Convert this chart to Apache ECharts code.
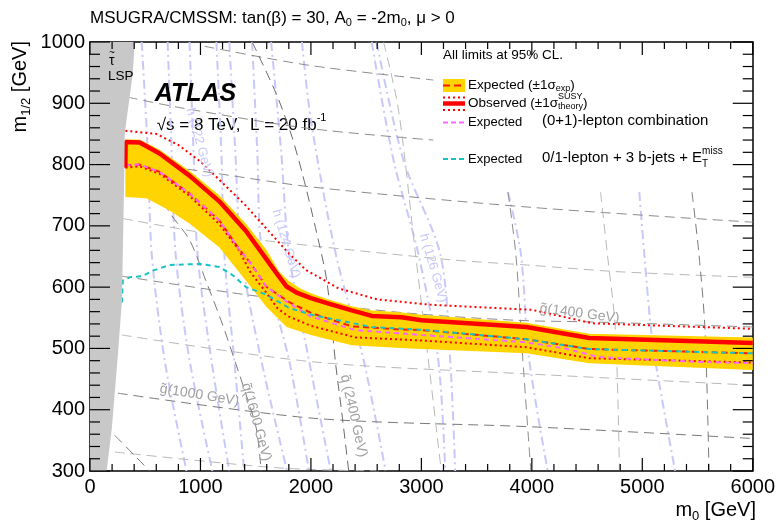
<!DOCTYPE html>
<html><head><meta charset="utf-8">
<script src="https://cdn.jsdelivr.net/npm/echarts@6/dist/echarts.min.js"></script>
<style>html,body{margin:0;padding:0;background:#fff}#c{width:778px;height:525px}</style>
</head><body><div id="c"></div>
<script>
const FONT = '"Liberation Sans", Arial, Helvetica, sans-serif';

// ---------------- data (m0 [GeV], m1/2 [GeV]) ----------------
const observed   = [[320,795],[322,837],[450,836],[630,818],[900,782],[1170,740],[1410,692],[1600,645],[1700,620],[1780,601],[1870,591],[2000,582],[2160,573],[2370,562],[2550,553],[2820,551],[3000,546],[3950,535],[4520,517],[6000,509]];
const theoryUp   = [[320,855],[600,850],[800,832],[1000,805],[1200,770],[1400,735],[1600,695],[1800,655],[1955,628],[2250,598],[2600,580],[3100,571],[4000,563],[4550,541],[6000,532]];
const theoryDown = [[320,795],[450,797],[630,785],[900,749],[1170,703],[1350,660],[1450,625],[1600,590],[1700,565],[1800,552],[2000,537],[2400,518],[3000,513],[3950,502],[4520,484],[6000,477]];
const expected   = [[320,799],[450,800],[630,788],[900,753],[1170,709],[1350,662],[1450,640],[1600,600],[1800,576],[2000,558],[2370,536],[2800,531],[3000,530],[3950,515],[4520,499],[6000,492]];
const bandUpper  = [[320,841],[450,841],[630,824],[900,790],[1170,750],[1410,704],[1600,660],[1710,626],[1800,610],[1900,598],[2000,590],[2160,580],[2370,569],[2550,562],[2800,559],[3000,555],[3950,542],[4520,524],[6000,518]];
const bandLower  = [[320,747],[510,745],[720,725],[900,704],[1170,665],[1410,611],[1600,567],[1780,535],[2000,522],[2370,505],[2900,500],[3950,492],[4520,476],[6000,465]];
const combo01    = [[320,799],[450,800],[630,788],[900,753],[1170,709],[1350,662],[1450,640],[1600,600],[1800,574],[2000,552],[2400,530],[3000,522],[3950,510],[4300,500],[4600,486],[5500,478],[6000,476]];
const bjets3     = [[288,575],[297,611],[360,616],[477,618],[568,627],[721,636],[991,638],[1171,633],[1288,620],[1414,600],[1595,588],[1802,566],[2027,554],[2550,535],[3036,530],[3950,515],[4520,499],[6000,492]];
const lspRegion  = [[0,300],[150,300],[198,370],[252,489],[288,575],[297,655],[310,780],[315,851],[387,949],[405,1000],[0,1000]];

// theory contours: gluino (near-horizontal), squark (near-vertical), Higgs mass
const gl1 = [[1036,993],[1982,962],[3108,938]];
const gl2 = [[342,910],[811,893],[1982,859],[3108,840]];
const gl3 = [[306,807],[1054,788],[2027,763],[4009,730],[6000,706]];
const gl4 = [[297,712],[1054,688],[1982,668],[3306,644],[3964,636],[4802,625],[6000,616]];
const gl5 = [[288,618],[1441,587],[2793,559],[3847,546],[4595,543],[6000,535]];
const gl6 = [[288,522],[2027,478],[4009,458],[6000,440]];
const gl7 = [[252,427],[2027,386],[4009,372],[6000,353]];
const gl8 = [[225,331],[1712,305],[2613,300]];
const glCurve = [[225,358],[405,325],[541,300]];
const sq2400 = [[1468,1000],[1685,916],[1820,850],[1930,780],[2050,690],[2144,610],[2225,473],[2279,396],[2342,300]];
const sq1600 = [[600,790],[694,730],[901,677],[1050,610],[1198,540],[1324,473],[1414,424],[1505,370],[1550,300]];
const sqA = [[3784,755],[3856,652],[3919,481],[3991,300]];
const sqB = [[2658,1000],[2793,889],[2946,655],[3063,481],[3180,300]];
const sqC = [[4622,755],[4685,652],[4757,530],[4793,300]];
const sqD = [[5450,755],[5514,652],[5568,530],[5604,300]];
const h1 = [[468,1000],[523,823],[559,654],[676,481],[874,300]];
const h2 = [[703,1000],[739,823],[775,654],[901,481],[1108,300]];
const h3 = [[901,1000],[937,823],[973,654],[1099,481],[1261,300]];
const h4 = [[1144,1000],[1189,823],[1216,654],[1306,481],[1396,300]];
const h5 = [[1261,1000],[1315,823],[1369,654],[1550,481],[1784,300]];
const h6 = [[1468,1000],[1514,823],[1559,654],[1802,481],[1982,300]];
const h7 = [[1640,1000],[1730,823],[1802,654],[1982,481],[2180,300]];
const h8 = [[1919,1000],[2000,872],[2225,654],[2477,481],[2676,300]];
const h9 = [[2550,1000],[2748,807],[2973,654],[3153,481],[3216,300]];
const h10 = [[2595,1000],[2838,807],[3171,654],[3261,481],[3306,300]];
const h11 = [[3784,755],[3901,654],[3973,486],[4144,300]];
const h12 = [[4973,755],[5018,654],[5090,514],[5180,416],[5297,300]];

// axes / ticks
const xMin = 0, xMax = 6000, xStep = 1000;
const yMin = 300, yMax = 1000, yStep = 100;
const xMajorTicks = [0,1000,2000,3000,4000,5000,6000];
const yMajorTicks = [300,400,500,600,700,800,900,1000];
const xMinorTicks = [], yMinorTicks = [];
for (let v = xMin; v <= xMax; v += 200) if (v % 1000) xMinorTicks.push(v);
for (let v = yMin; v <= yMax; v += 20) if (v % 100) yMinorTicks.push(v);

// ---------------- helpers ----------------
function fnt(size, w, s){ return (s||'normal') + ' ' + (w||'normal') + ' ' + size + 'px ' + FONT; }
const mctx = document.createElement('canvas').getContext('2d');
function tw(t, f){ mctx.font = f; return mctx.measureText(t).width; }
function run(x, y, segs, opt) {
  opt = opt || {};
  let cx = 0; const ch = [];
  segs.forEach(sg => {
    const f = fnt(sg.size, sg.w, sg.s);
    ch.push({type:'text', x:cx, y:sg.dy||0, style:{text:sg.t, font:f, fill:sg.fill||opt.fill||'#000', verticalAlign:'middle', align:'left'}});
    const w = tw(sg.t, f);
    if (!sg.noAdv) cx += w;
  });
  if (opt.anchor === 'right') ch.forEach(c => c.x -= cx);
  return {type:'group', x:x, y:y, rotation:opt.rotation||0, children:ch, silent:true, z:100};
}
function line(data, color, width, type, z, smooth) {
  return {type:'line', data:data, showSymbol:false, symbol:'none', smooth:smooth||false, silent:true,
          lineStyle:{color:color, width:width, type:type}, z:z, clip:true, animation:false};
}
function poly(pts, color, z) {
  return {type:'custom', silent:true, z:z, clip:true, data:[[xMin,yMin]],
    renderItem:function(params, api){
      return {type:'polygon', shape:{points: pts.map(p => api.coord(p))}, style:{fill:color}};
    }};
}
function ticks(vals, dir, len) {
  return {type:'custom', silent:true, z:50, clip:false,
    data: vals.map(v => dir === 'x' ? [v, yMin] : [xMin, v]),
    renderItem:function(params, api){
      let a, b, s1, s2;
      if (dir === 'x') {
        const v = api.value(0);
        a = api.coord([v, yMin]); b = api.coord([v, yMax]);
        s1 = {x1:a[0], y1:a[1], x2:a[0], y2:a[1]-len};
        s2 = {x1:b[0], y1:b[1], x2:b[0], y2:b[1]+len};
      } else {
        const v = api.value(1);
        a = api.coord([xMin, v]); b = api.coord([xMax, v]);
        s1 = {x1:a[0], y1:a[1], x2:a[0]+len, y2:a[1]};
        s2 = {x1:b[0], y1:b[1], x2:b[0]-len, y2:b[1]};
      }
      return {type:'group', children:[
        {type:'line', shape:s1, style:{stroke:'#000', lineWidth:1.2}},
        {type:'line', shape:s2, style:{stroke:'#000', lineWidth:1.2}}]};
    }};
}

const DARK = '#7a7a7a', MID = '#8c8c8c', LIGHT = '#b8b8b8', BLUE = '#c8c8fa';
const dash = [10,6], dashdot = [9,4,2,4];

const series = [];
[h1,h2,h3,h4,h5,h6,h7,h8,h9,h10,h11,h12].forEach(h => series.push(line(h, BLUE, 2, dashdot, 1, 0.3)));
[[gl1,MID],[gl2,MID],[gl3,MID],[gl4,LIGHT],[gl5,MID],[gl6,LIGHT],[gl7,DARK],[gl8,LIGHT],[glCurve,DARK],
 [sq2400,'#6a6a6a'],[sq1600,DARK],[sqA,MID],[sqB,LIGHT],[sqC,LIGHT],[sqD,DARK]]
  .forEach(p => series.push(line(p[0], p[1], 1, dash, 2, 0.3)));
series.push(poly(bandUpper.concat(bandLower.slice().reverse()), '#ffd400', 5));
series.push(line(theoryUp, '#ff0000', 2, [2,3], 8));
series.push(line(theoryDown, '#ff0000', 2, [2,3], 8));
series.push(line(expected, '#ff1a00', 2, [6,4], 7));
series.push(line(combo01, '#ff66ff', 2, [5,4], 9));
series.push(line(bjets3, '#19c2c2', 2, [5,4], 9));
series.push(line(observed, '#ff0000', 4.5, 'solid', 10));
series.push(poly(lspRegion, '#c8c8c8', 20));
series.push(ticks(xMajorTicks, 'x', 13));
series.push(ticks(xMinorTicks, 'x', 7));
series.push(ticks(yMajorTicks, 'y', 20));
series.push(ticks(yMinorTicks, 'y', 10));

function xAx(pos, show) {
  return {type:'value', min:xMin, max:xMax, interval:xStep, position:pos,
    axisLine:{show:true, onZero:false, lineStyle:{color:'#000', width:1.5}},
    axisTick:{show:false}, minorTick:{show:false},
    axisLabel:{show:show, fontSize:20, color:'#000', margin:6, fontFamily:FONT, formatter:v => String(v)},
    splitLine:{show:false}};
}
function yAx(pos, show) {
  return {type:'value', min:yMin, max:yMax, interval:yStep, position:pos,
    axisLine:{show:true, onZero:false, lineStyle:{color:'#000', width:1.5}},
    axisTick:{show:false}, minorTick:{show:false},
    axisLabel:{show:show, fontSize:20, color:'#000', margin:5, fontFamily:FONT, formatter:v => String(v)},
    splitLine:{show:false}};
}

const chart = echarts.init(document.getElementById('c'));
chart.setOption({
  animation:false,
  backgroundColor:'#fff',
  textStyle:{fontFamily:FONT},
  grid:{left:90, right:22, top:42, bottom:54, containLabel:false},
  xAxis:[xAx('bottom', true), xAx('top', false)],
  yAxis:[yAx('left', true), yAx('right', false)],
  series:series
});

// ---------------- annotations & legend ----------------
function P(m0, m12){ return chart.convertToPixel({gridIndex:0}, [m0, m12]); }
const G = [];
function tlabel(pt, text, size, color, rot, dy){
  G.push({type:'text', x:pt[0], y:pt[1] + (dy||0), rotation:rot, silent:true, z:60,
    style:{text:text, font:fnt(size), fill:color, align:'center', verticalAlign:'middle'}});
}
tlabel(P(991,424), 'g\u0303(1000 GeV)', 14, '#a0a0a0', -0.16);
tlabel(P(4432,557), 'g\u0303(1400 GeV)', 14, '#a0a0a0', -0.13);
tlabel(P(1505,380), 'q\u0303(1600 GeV)', 14, '#a0a0a0', -1.30);
tlabel(P(2387,390), 'q\u0303 (2400 GeV)', 14, '#a0a0a0', -1.35);
tlabel(P(991,836), 'h (122 GeV)', 13, '#c8c8ff', -1.30);
tlabel(P(1775,671), 'h (124 GeV)', 13, '#c8c8ff', -1.28);
tlabel(P(3108,631), 'h (126 GeV)', 13, '#c8c8ff', -1.29);
tlabel(P(198,968), '\u03C4', 14, '#000', 0);
tlabel(P(198,968), '~', 10, '#000', 0, -8);
tlabel(P(279,944), 'LSP', 13.5, '#000', 0);

const pA = P(586,915);
G.push({type:'text', x:pA[0], y:pA[1], silent:true, z:100,
  style:{text:'ATLAS', font:fnt(25,'bold','italic'), fill:'#000', verticalAlign:'middle', align:'left'}});
const pS = P(604,864);
G.push(run(pS[0], pS[1], [{t:'\u221As = 8 TeV,  L = 20 fb', size:17},{t:'-1', size:11, dy:-7}]));

// title
G.push(run(90, 18, [{t:'MSUGRA/CMSSM: tan(\u03B2) = 30, A', size:17},{t:'0', size:11, dy:5},
  {t:' = -2m', size:17},{t:'0', size:11, dy:5},{t:', \u03BC > 0', size:17}]));
// axis titles
G.push(run(20, 41, [{t:'m', size:20},{t:'1/2', size:13, dy:6},{t:' [GeV]', size:20}], {rotation:Math.PI/2, anchor:'right'}));
G.push(run(756, 510, [{t:'m', size:20},{t:'0', size:13, dy:6},{t:' [GeV]', size:20}], {anchor:'right'}));

// legend
G.push(run(443, 55, [{t:'All limits at 95% CL.', size:13.5}]));
G.push({type:'rect', shape:{x:443, y:79, width:22, height:13}, style:{fill:'#ffd400'}, silent:true, z:90});
G.push({type:'line', shape:{x1:443, y1:85.5, x2:465, y2:85.5}, style:{stroke:'#ff1a00', lineWidth:2, lineDash:[7,4]}, silent:true, z:91});
G.push({type:'line', shape:{x1:443, y1:97.5, x2:465, y2:97.5}, style:{stroke:'#ff0000', lineWidth:2, lineDash:[2,3]}, silent:true, z:91});
G.push({type:'line', shape:{x1:443, y1:103.5, x2:465, y2:103.5}, style:{stroke:'#ff0000', lineWidth:4.5}, silent:true, z:91});
G.push({type:'line', shape:{x1:443, y1:110, x2:465, y2:110}, style:{stroke:'#ff0000', lineWidth:2, lineDash:[2,3]}, silent:true, z:91});
G.push({type:'line', shape:{x1:443, y1:122.5, x2:465, y2:122.5}, style:{stroke:'#ff66ff', lineWidth:2, lineDash:[5,3]}, silent:true, z:91});
G.push({type:'line', shape:{x1:443, y1:159, x2:465, y2:159}, style:{stroke:'#19c2c2', lineWidth:2, lineDash:[5,3]}, silent:true, z:91});
G.push(run(468, 85, [{t:'Expected (\u00B11\u03C3', size:13.5},{t:'exp', size:9, dy:4},{t:')', size:13.5}]));
G.push(run(468, 103, [{t:'Observed (\u00B11\u03C3', size:13.5},{t:'SUSY', size:9, dy:-6, noAdv:true},{t:'theory', size:9, dy:4},{t:')', size:13.5}]));
G.push(run(468, 122, [{t:'Expected', size:13}]));
G.push(run(542, 121, [{t:'(0+1)-lepton combination', size:15}]));
G.push(run(468, 159, [{t:'Expected', size:13}]));
G.push(run(542, 158, [{t:'0/1-lepton + 3 b-jets + E', size:15},{t:'miss', size:10, dy:-7, noAdv:true},{t:'T', size:10, dy:6}]));

chart.setOption({graphic:G});
</script>
</body></html>
